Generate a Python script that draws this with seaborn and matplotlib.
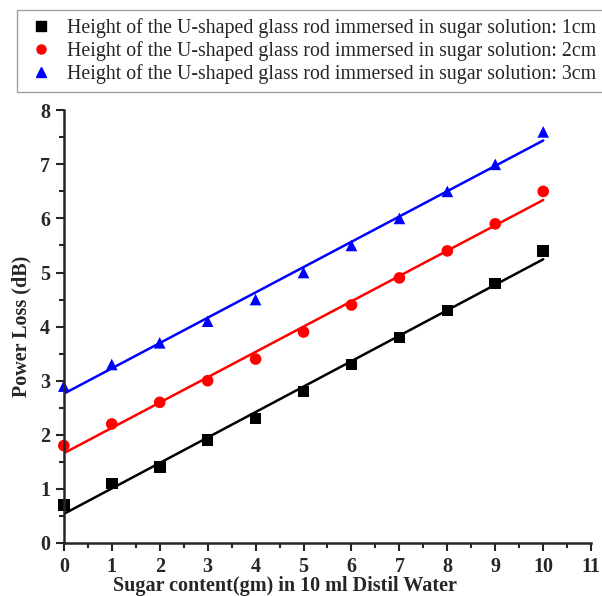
import numpy as np
import pandas as pd
import matplotlib
matplotlib.use("Agg")
import matplotlib.pyplot as plt
import seaborn as sns
from matplotlib.ticker import MultipleLocator

sugar = [0, 1, 2, 3, 4, 5, 6, 7, 8, 9, 10]
loss_1cm = [0.7, 1.1, 1.4, 1.9, 2.3, 2.8, 3.3, 3.8, 4.3, 4.8, 5.4]
loss_2cm = [1.8, 2.2, 2.6, 3.0, 3.4, 3.9, 4.4, 4.9, 5.4, 5.9, 6.5]
loss_3cm = [2.9, 3.3, 3.7, 4.1, 4.5, 5.0, 5.5, 6.0, 6.5, 7.0, 7.6]
labels = ["Height of the U-shaped glass rod immersed in sugar solution: 1cm",
          "Height of the U-shaped glass rod immersed in sugar solution: 2cm",
          "Height of the U-shaped glass rod immersed in sugar solution: 3cm"]
colors = ["black", "red", "blue"]
markers = ["s", "o", "^"]

sns.set_style("ticks")
plt.rcParams['font.family'] = ['Liberation Serif', 'DejaVu Serif']

fig = plt.figure(figsize=(6.02, 5.96), dpi=100)
ax = fig.add_axes([0.106, 0.089, 0.876, 0.726])

handles = []
for ys, lab, c, m in zip([loss_1cm, loss_2cm, loss_3cm], labels, colors, markers):
    df = pd.DataFrame({"x": sugar, "y": ys})
    sns.regplot(data=df, x="x", y="y", ax=ax, ci=None, color=c, marker=m,
                scatter_kws={"s": 70, "edgecolors": "none", "alpha": 1, "clip_on": False},
                line_kws={"lw": 1.8})
    h, = ax.plot([], [], linestyle="none", marker=m, color=c, markersize=6.5)
    handles.append(h)

ax.set_xlim(0, 11)
ax.set_ylim(0, 8)
ax.xaxis.set_major_locator(MultipleLocator(1))
ax.xaxis.set_minor_locator(MultipleLocator(0.5))
ax.yaxis.set_major_locator(MultipleLocator(1))
ax.yaxis.set_minor_locator(MultipleLocator(0.5))
ax.tick_params(which="major", direction="out", length=6, width=1.5, labelsize=14.5, pad=4)
ax.tick_params(which="minor", direction="out", length=3.5, width=1.5)
for lab in ax.get_xticklabels() + ax.get_yticklabels():
    lab.set_fontweight("bold")
sns.despine(ax=ax)
for s in ["left", "bottom"]:
    ax.spines[s].set_linewidth(1.8)

ax.set_xlabel("Sugar content(gm) in 10 ml Distil Water", fontsize=14.5, fontweight="bold")
ax.xaxis.set_label_coords(0.42, -0.076)
ax.set_ylabel("Power Loss (dB)", fontsize=14.5, fontweight="bold", labelpad=6)

leg = fig.legend(handles, labels, loc="upper left", bbox_to_anchor=(0.028, 0.983),
                 borderaxespad=0, fontsize=14.3, frameon=True, fancybox=False,
                 edgecolor="#888888", handletextpad=0.5, borderpad=0.4,
                 labelspacing=0.15, handlelength=1.6)
leg.get_frame().set_linewidth(1.0)

fig.savefig("out.png", dpi=100)
